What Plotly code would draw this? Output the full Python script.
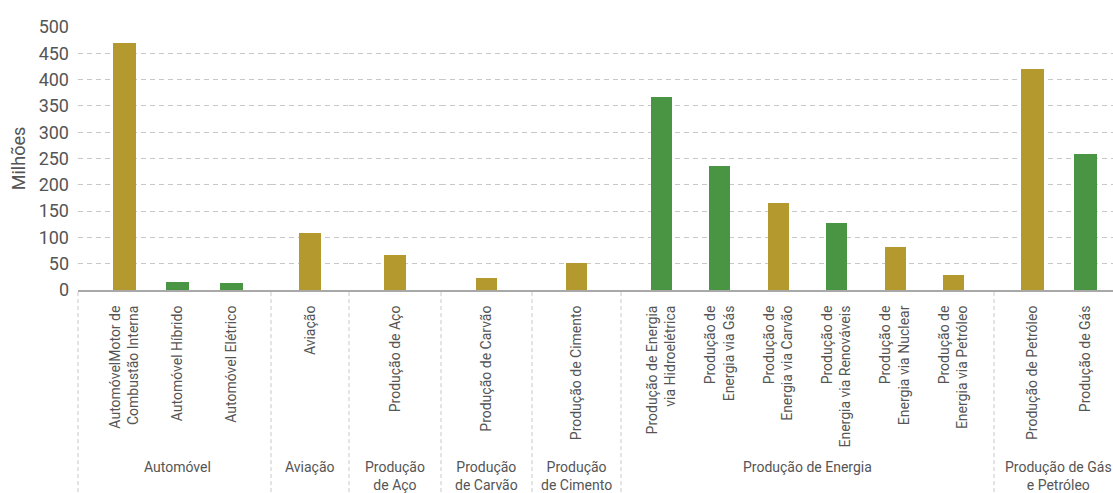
import plotly.graph_objects as go
from plotly.subplots import make_subplots

# ---------------- data ----------------
group_names = [
    "Automóvel",
    "Aviação",
    "Produção<br>de Aço",
    "Produção<br>de Carvão",
    "Produção<br>de Cimento",
    "Produção de Energia",
    "Produção de Gás<br>e Petróleo",
]
category_group = [0, 0, 0, 1, 2, 3, 4, 5, 5, 5, 5, 5, 5, 6, 6]
categories = [
    "Automóvel Motor de Combustão Interna",
    "Automóvel Híbrido",
    "Automóvel Elétrico",
    "Aviação",
    "Produção de Aço",
    "Produção de Carvão",
    "Produção de Cimento",
    "Produção de Energia via Hidroelétrica",
    "Produção de Energia via Gás",
    "Produção de Energia via Carvão",
    "Produção de Energia via Renováveis",
    "Produção de Energia via Nuclear",
    "Produção de Energia via Petróleo",
    "Produção de Petróleo",
    "Produção de Gás",
]
tick_labels = [
    "AutomóvelMotor de<br>Combustão Interna",
    "Automóvel Híbrido",
    "Automóvel Elétrico",
    "Aviação",
    "Produção de Aço",
    "Produção de Carvão",
    "Produção de Cimento",
    "Produção de Energia<br>via Hidroelétrica",
    "Produção de<br>Energia via Gás",
    "Produção de<br>Energia via Carvão",
    "Produção de<br>Energia via Renováveis",
    "Produção de<br>Energia via Nuclear",
    "Produção de<br>Energia via Petróleo",
    "Produção de Petróleo",
    "Produção de Gás",
]
values = [470, 15, 13, 108, 66, 23, 51, 367, 236, 165, 127, 82, 29, 420, 258]
kind = ["A", "B", "B", "A", "A", "A", "A", "B", "B", "A", "B", "A", "A", "A", "B"]
y_ticks = [0, 50, 100, 150, 200, 250, 300, 350, 400, 450, 500]
y_title = "Milhões"

# ---------------- style / layout ----------------
W, H = 1113, 493
M_L, M_R, M_T, M_B = 78, 0, 27, 203
edges_px = [78, 271, 349, 441, 532, 621, 994, 1113]
pad_left = [0.867, 0.5, 0.5, 0.5, 0.5, 0.696, 0.726]
pad_right = [0.738, 0.5, 0.5, 0.5, 0.5, 0.696, 0.519]
bar_width = [0.43, 0.27, 0.23, 0.23, 0.236, 0.36, 0.43]
color_map = {"A": "#B3992E", "B": "#4A9544"}
FONT = "Roboto, 'Open Sans', sans-serif"
TXT = "#555555"
GRID = "#C8C8C8"
AXIS = "#A8A8A8"

n_groups = len(group_names)
col_widths = [edges_px[i + 1] - edges_px[i] for i in range(n_groups)]

fig = make_subplots(rows=1, cols=n_groups, shared_yaxes=True,
                    horizontal_spacing=0, column_widths=col_widths)

plot_h = H - M_T - M_B

for g in range(n_groups):
    idx = [i for i, cg in enumerate(category_group) if cg == g]
    cats = [categories[i] for i in idx]
    fig.add_trace(
        go.Bar(
            x=cats,
            y=[values[i] for i in idx],
            marker=dict(color=[color_map[kind[i]] for i in idx], line=dict(width=0)),
            width=bar_width[g],
            showlegend=False,
            hovertemplate="%{x}: %{y}<extra></extra>",
        ),
        row=1, col=g + 1,
    )
    n = len(cats)
    fig.update_xaxes(
        type="category",
        range=[-pad_left[g], n - 1 + pad_right[g]],
        tickmode="array",
        tickvals=cats,
        ticktext=[tick_labels[i] for i in idx],
        tickangle=-90,
        tickfont=dict(family=FONT, size=14, color=TXT),
        ticks="",
        ticklabelstandoff=8,
        showline=True,
        linecolor=AXIS,
        linewidth=2,
        showgrid=False,
        zeroline=False,
        automargin=False,
        fixedrange=True,
        row=1, col=g + 1,
    )
    suffix = "" if g == 0 else str(g + 1)
    # group label
    fig.add_annotation(
        x=(n - 1) / 2, xref="x" + suffix,
        y=-(458 - (H - M_B)) / plot_h, yref="paper",
        yanchor="top", xanchor="center",
        text=group_names[g], showarrow=False,
        font=dict(family=FONT, size=14, color=TXT),
        align="center",
        borderpad=0,
    )
    # dashed divider
    fig.add_shape(
        type="line", xref="x" + suffix + " domain", yref="paper",
        x0=0, x1=0, y0=-0.008, y1=-(H - (H - M_B)) / plot_h,
        line=dict(color=GRID, width=1, dash="4px,3px"),
    )

fig.update_yaxes(
    range=[0, 500],
    tickmode="array",
    tickvals=y_ticks,
    showgrid=True,
    gridcolor=GRID,
    gridwidth=1.3,
    griddash="5px,4px",
    zeroline=False,
    showline=False,
    ticks="",
    automargin=False,
    fixedrange=True,
)
fig.update_yaxes(
    tickfont=dict(family=FONT, size=18, color=TXT),
    ticklabelstandoff=8,
    title=dict(text=y_title, font=dict(family=FONT, size=18, color=TXT), standoff=8),
    row=1, col=1,
)

fig.update_layout(
    width=W, height=H,
    margin=dict(l=M_L, r=M_R, t=M_T, b=M_B, autoexpand=False),
    paper_bgcolor="white",
    plot_bgcolor="white",
    bargap=0,
    showlegend=False,
    font=dict(family=FONT, color=TXT),
)

fig.write_html("out.html")
